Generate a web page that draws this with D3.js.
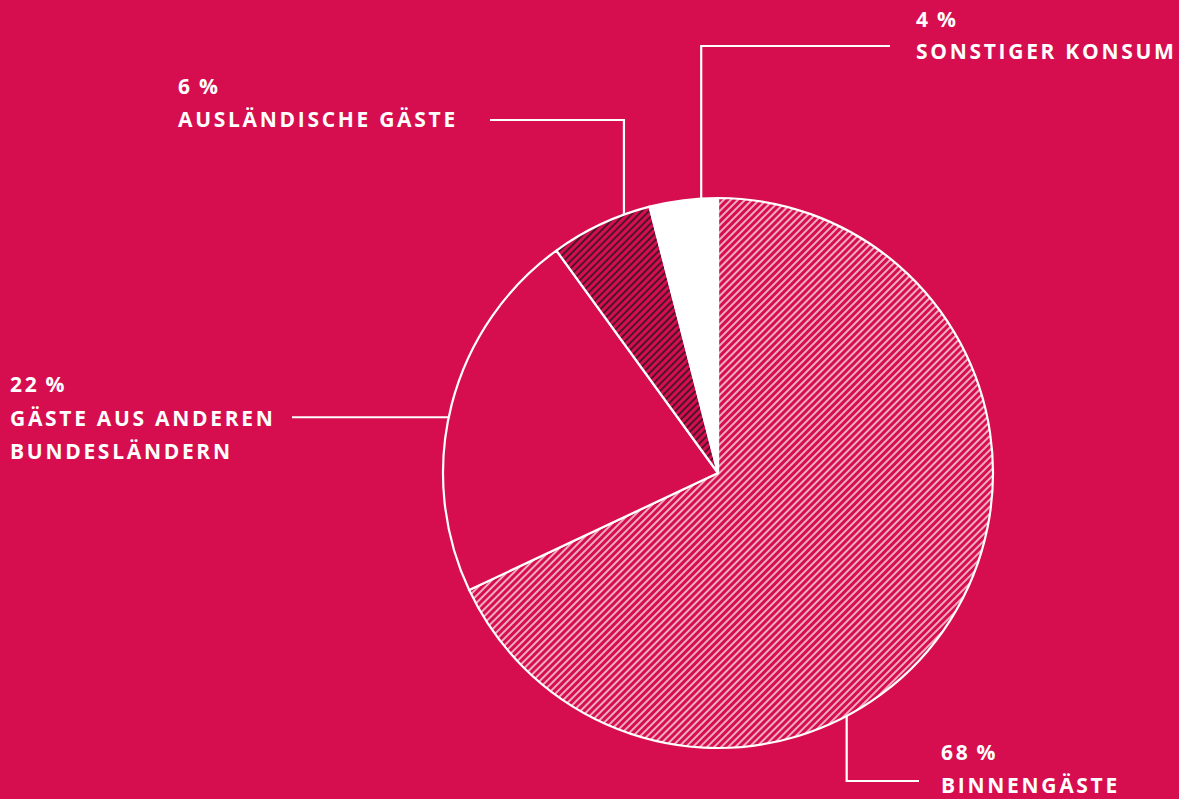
<!DOCTYPE html>
<html>
<head>
<meta charset="utf-8">
<script src="https://cdn.jsdelivr.net/npm/d3@7"></script>
<style>
  html, body { margin: 0; padding: 0; background: #d60e50; }
  svg { display: block; }
  .lbl { font-family: "Open Sans", sans-serif; font-weight: 700; font-size: 21px; fill: #fff; letter-spacing: 2.7px; }
</style>
</head>
<body>
<div id="chart"></div>
<script>
// Daten
var categories = ["Binnengäste", "Gäste aus anderen Bundesländern", "Ausländische Gäste", "Sonstiger Konsum"];
var shares = [68, 22, 6, 4];
var pctLabels = ["68\u2009%", "22\u2009%", "6\u2009%", "4\u2009%"];
var nameLines = [["BINNENGÄSTE"], ["GÄSTE AUS ANDEREN", "BUNDESLÄNDERN"], ["AUSLÄNDISCHE GÄSTE"], ["SONSTIGER KONSUM"]];

var W = 1179, H = 799;
var cx = 718, cy = 473, R = 275;
var bg = "#d60e50";

var svg = d3.select("#chart").append("svg")
  .attr("width", W).attr("height", H);

svg.append("rect").attr("width", W).attr("height", H).attr("fill", bg);

var defs = svg.append("defs");
function hatch(id, color, w) {
  var p = defs.append("pattern")
    .attr("id", id)
    .attr("patternUnits", "userSpaceOnUse")
    .attr("width", 5).attr("height", 5)
    .attr("patternTransform", "rotate(45)");
  p.append("rect").attr("width", 5).attr("height", 5).attr("fill", bg);
  p.append("line").attr("x1", 1).attr("y1", 0).attr("x2", 1).attr("y2", 5)
    .attr("stroke", color).attr("stroke-width", w);
}
hatch("hatchLight", "#ffffff", 1.3);
hatch("hatchDark", "#2b1620", 1.6);

var fills = ["url(#hatchLight)", bg, "url(#hatchDark)", "#ffffff"];

var pie = d3.pie().sort(null).value(d => d);
var arcs = pie(shares);
var arc = d3.arc().innerRadius(0).outerRadius(R);

var g = svg.append("g").attr("transform", `translate(${cx},${cy})`);

g.selectAll("path.slice")
  .data(arcs)
  .enter()
  .append("path")
  .attr("class", "slice")
  .attr("d", arc)
  .attr("fill", (d, i) => fills[i])
  .attr("stroke", "#fff")
  .attr("stroke-width", 2.2)
  .attr("stroke-linejoin", "round");

// Beschriftungen: Ankerwinkel (Grad, im Uhrzeigersinn ab 12 Uhr), Knick, Ende
var layout = [
  { angle: 152.1, elbowY: 781, endX: 919, textX: 941, textY: [760, 793] },
  { angle: 281.7, elbowY: null, endX: 292, textX: 10, textY: [392, 426, 459] },
  { angle: 340.0, elbowY: 120, endX: 490, textX: 178, textY: [94, 127] },
  { angle: 356.5, elbowY: 46, endX: 890, textX: 916, textY: [27, 59] }
];

var line = d3.line();

layout.forEach(function(L, i) {
  var p = d3.pointRadial(L.angle * Math.PI / 180, R);
  var a = [cx + p[0], cy + p[1]];
  var pts = [a];
  if (L.elbowY !== null) {
    pts.push([a[0], L.elbowY]);
    pts.push([L.endX, L.elbowY]);
  } else {
    pts.push([L.endX, a[1]]);
  }
  svg.append("path")
    .attr("d", line(pts))
    .attr("fill", "none")
    .attr("stroke", "#fff")
    .attr("stroke-width", 2.2);

  var lines = [pctLabels[i]].concat(nameLines[i]);
  svg.selectAll(null)
    .data(lines)
    .enter()
    .append("text")
    .attr("class", "lbl")
    .attr("x", L.textX)
    .attr("y", (d, j) => L.textY[j])
    .text(d => d);
});
</script>
</body>
</html>
